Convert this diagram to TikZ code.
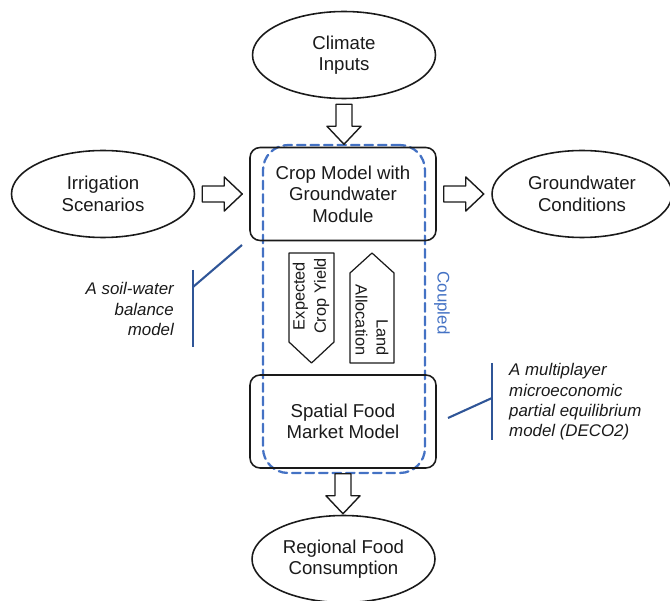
\documentclass[tikz,border=0pt]{standalone}
\usepackage{fontspec}
\setmainfont{Liberation Sans}
\usetikzlibrary{calc,shapes.geometric}
\definecolor{coupledblue}{HTML}{4472C4}
\definecolor{calloutblue}{HTML}{2F5597}
\definecolor{inkgray}{HTML}{1A1A1A}
\newcommand{\boxfont}{\fontsize{10.6}{12.2}\selectfont}
\newcommand{\notefont}{\fontsize{9.6}{11.6}\selectfont\itshape}
\newcommand{\tagfont}{\fontsize{9.3}{12}\selectfont}
% block arrow: #1 start point, #2 direction
\newcommand{\blockarrow}[2]{%
	\draw[line width=0.8pt,inkgray,fill=white,shift={#1},rotate=#2]
		(0,-8) -- (22,-8) -- (22,-17) -- (40,0) -- (22,17) -- (22,8) -- (0,8) -- cycle;}

\begin{document}
\begin{tikzpicture}[line cap=round,line join=round,x=0.02cm,y=-0.02cm,
		ovalnode/.style={ellipse,draw=inkgray,line width=0.9pt,inner sep=0pt,minimum width=3.66cm,minimum height=1.74cm,align=center,font=\boxfont,text=inkgray},
		modelbox/.style={rectangle,draw=inkgray,line width=0.9pt,rounded corners=0.2cm,inner sep=0pt,minimum width=3.72cm,minimum height=1.86cm,align=center,font=\boxfont,text=inkgray},
		tagshape/.style={draw=inkgray,line width=0.7pt},
		callout/.style={calloutblue,line width=1.2pt,line cap=butt}]
			\useasboundingbox (0,0) rectangle (670,601);
			% coupling frame
			\node[draw=coupledblue,line width=1.3pt,dash pattern=on 0.17cm off 0.1cm,rounded corners=0.5cm,minimum width=3.24cm,minimum height=6.56cm,inner sep=0pt] (couplebox) at (344,309) {};
			\node[rotate=-90,text=coupledblue,font=\fontsize{9.6}{11}\selectfont] (coupled) at (442,303) {Coupled};
			% models and inputs
			\node[ovalnode] (climate) at (344,55) {Climate\\Inputs};
			\node[ovalnode] (irrigation) at (103,194) {Irrigation\\Scenarios};
			\node[modelbox] (crop) at (343,194) {Crop Model with\\Groundwater\\Module};
			\node[ovalnode,minimum width=3.6cm] (groundwater) at (582,194) {Groundwater\\Conditions};
			\node[modelbox] (spatial) at (343,421.5) {Spatial Food\\Market Model};
			\node[ovalnode] (regional) at (343.5,559) {Regional Food\\Consumption};
			% block arrows
			\blockarrow{($(climate.south)+(0,5)$)}{-90}
			\blockarrow{($(irrigation.east)+(7,0)$)}{0}
			\blockarrow{($(crop.east)+(7,0)$)}{0}
			\blockarrow{($(spatial.south)+(0,5)$)}{-90}
			% exchanged data
			\draw[tagshape] (289,253) -- (334,253) -- (334,342) -- (311.5,363) -- (289,342) -- cycle;
			\draw[tagshape] (350,363) -- (350,273) -- (372,253) -- (394,273) -- (394,363) -- cycle;
			\node[rotate=90,align=center,font=\tagfont,text=inkgray] (yield) at (311,296) {Expected\\Crop Yield};
			\node[rotate=-90,align=right,font=\tagfont,text=inkgray] (landuse) at (372,320) {Land\\Allocation};
			% notes
			\node[anchor=east,align=right,font=\notefont,text=inkgray] (soilnote) at (180,309) {A soil-water\\balance\\model};
			\node[anchor=west,align=left,font=\notefont,text=inkgray] (deconote) at (503,402) {A multiplayer\\microeconomic\\partial equilibrium\\model (DECO2)};
			\coordinate (soiltip) at (242,245);
			\coordinate (soilknee) at (193,287);
			\coordinate (decotip) at (448,418);
			\coordinate (decoknee) at (492,398);
			\draw[callout] (soiltip) -- (soilknee);
			\draw[callout] ($(soilknee)+(0,-17)$) -- ($(soilknee)+(0,60)$);
			\draw[callout] (decotip) -- (decoknee);
			\draw[callout] ($(decoknee)+(0,-35)$) -- ($(decoknee)+(0,42)$);
			\end{tikzpicture}
\end{document}
